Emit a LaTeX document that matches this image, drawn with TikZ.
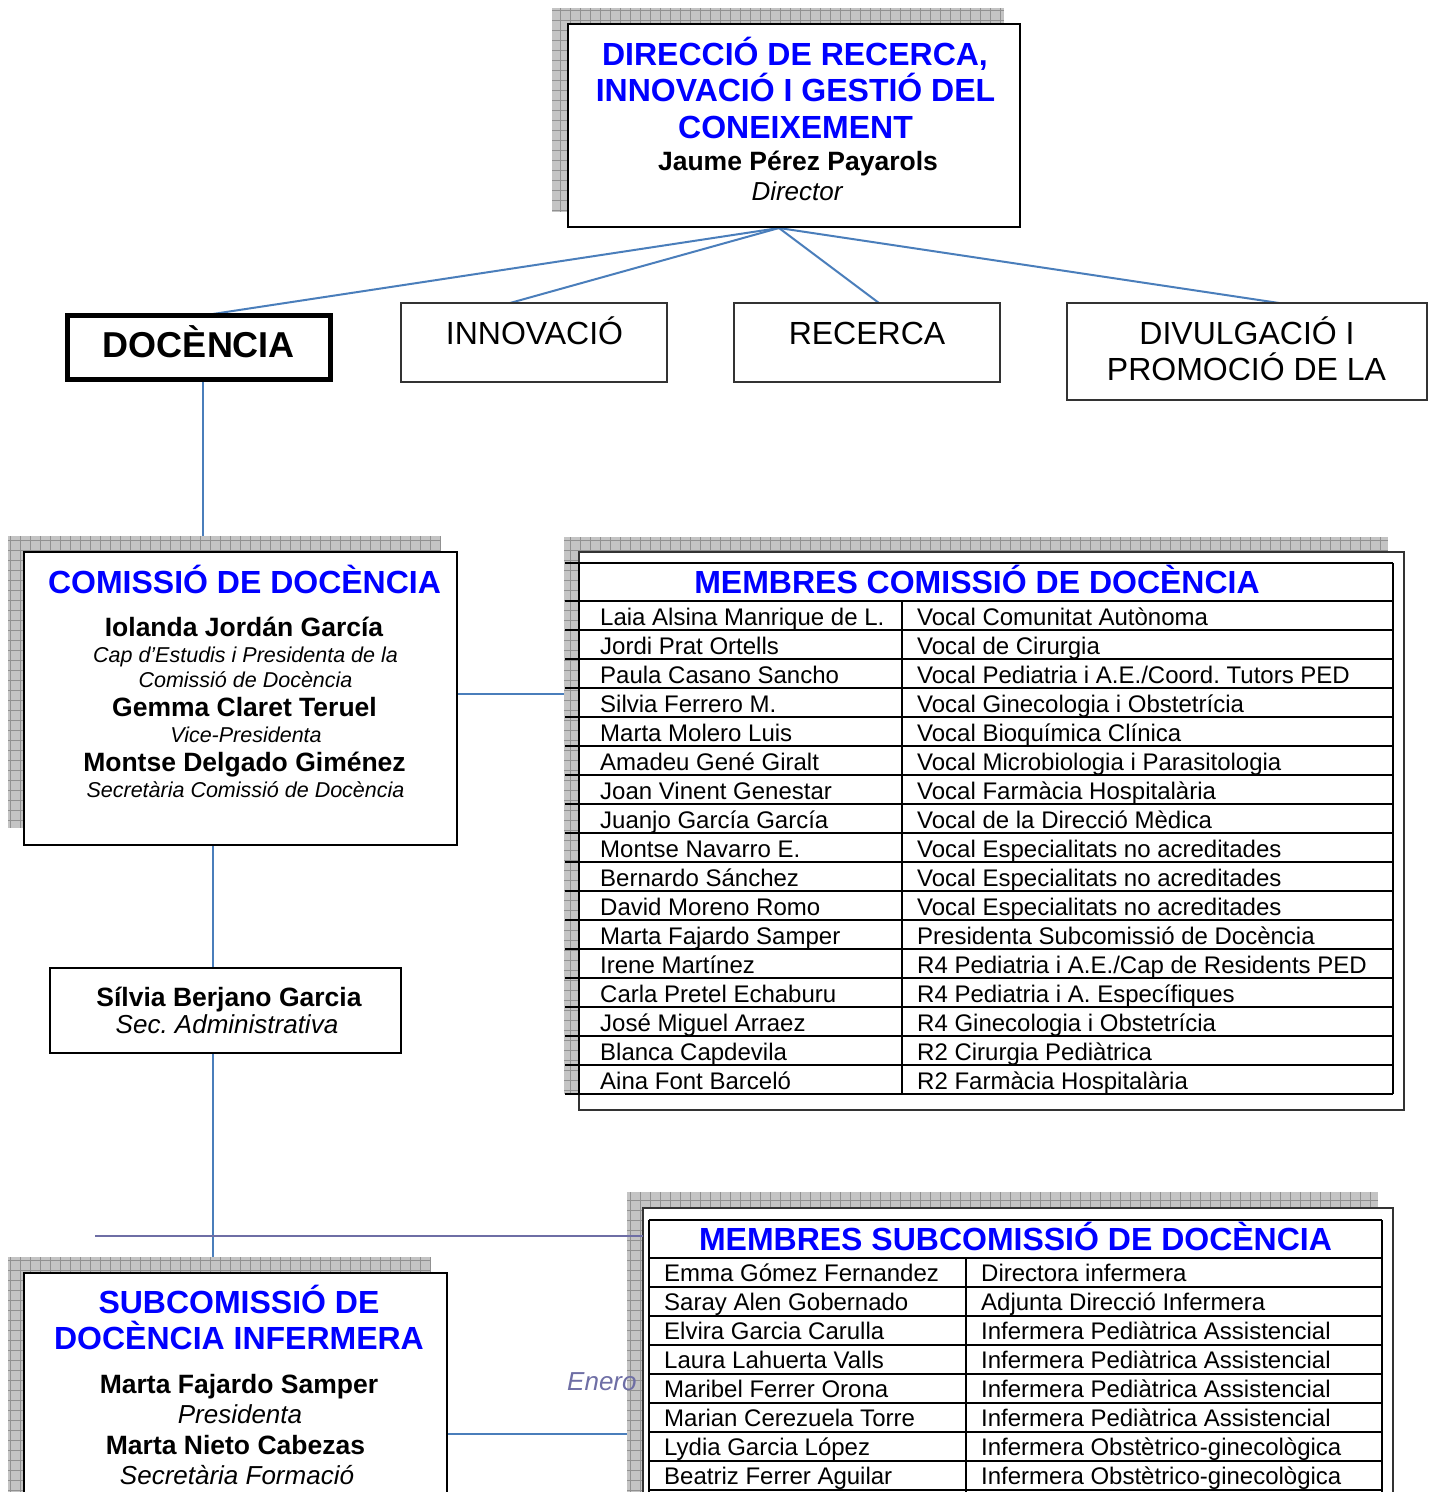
\documentclass[tikz,border=0pt]{standalone}
\usepackage{fontspec}
\setmainfont{Liberation Sans}
\usetikzlibrary{calc,fit}
\frenchspacing
\definecolor{linkblue}{RGB}{74,126,187}
\definecolor{slateblue}{RGB}{110,110,165}
\definecolor{titleblue}{RGB}{0,0,255}
\definecolor{shadefill}{RGB}{196,196,196}
\definecolor{shadegrid}{RGB}{145,145,145}
\pgfdeclarelayer{paper}
\pgfdeclarelayer{links}
\pgfdeclarelayer{shade}
\pgfsetlayers{paper,links,shade,main}
% hatched drop shadow behind a box: corners (#1,#2) and (#3,#4)
\newcommand\gridshadow[4]{%
  \begin{scope}
    \clip (#1,#2) rectangle (#3,#4);
    \fill[shadefill] (#1,#2) rectangle (#3,#4);
    \foreach \gx in {0,10,...,1440} \draw[shadegrid, line width=0.8] (\gx,#2) -- (\gx,#4);
    \foreach \gy in {0,10,...,1560} \draw[shadegrid, line width=0.8] (#1,\gy) -- (#3,\gy);
  \end{scope}}
\tikzset{
  link/.style={draw=linkblue, line width=2},
  boxframe/.style={rectangle, draw=black, line width=2, fill=white, inner sep=0, outer sep=0},
  thinframe/.style={rectangle, draw=black!80, line width=1.5, fill=white, inner sep=0, outer sep=0},
  tbl/.style={draw=black, line width=2},
  txt/.style={inner sep=0, anchor=base},
  hd/.style={txt, text=titleblue, font=\fontsize{32}{36}\selectfont\bfseries},
  pname/.style={txt, font=\fontsize{26.5}{30}\selectfont\bfseries},
  role/.style={txt, font=\fontsize{26}{30}\selectfont\itshape},
  srole/.style={txt, font=\fontsize{21.5}{25}\selectfont\itshape},
  unitlbl/.style={txt, font=\fontsize{32}{36}\selectfont},
  cell/.style={inner sep=0, anchor=base west, font=\fontsize{24}{28}\selectfont},
}
\begin{document}
\begin{tikzpicture}[x=1pt,y=-1pt]
\useasboundingbox (0,0) rectangle (1433,1492);
\begin{pgfonlayer}{paper}
  \fill[white] (0,0) rectangle (1433,1492);
\end{pgfonlayer}

% ---------- boxes ----------
\node[boxframe, fit={(568,24) (1020,227)}] (top) {};
\node[boxframe, line width=5, fit={(67.5,315.5) (330.5,379.5)}] (doc) {};
\node[thinframe, fit={(401,303) (667,382)}] (inn) {};
\node[thinframe, fit={(734,303) (1000,382)}] (rec) {};
\node[thinframe, fit={(1067,303) (1427,400)}] (div) {};
\node[boxframe, fit={(24,552) (457,845)}] (com) {};
\node[thinframe, draw=black, fit={(50,968) (401,1053)}] (sil) {};
\node[boxframe, fit={(24,1273) (447,1560)}] (sub) {};
\node[boxframe, draw=black!80, line width=2.5, fit={(579,552) (1404,1110)}] (mct) {};
\node[boxframe, draw=black!80, line width=2.5, fit={(643,1208) (1393,1560)}] (sct) {};

% ---------- drop shadows ----------
\begin{pgfonlayer}{shade}
  \gridshadow{552}{8}{1004}{212}
  \gridshadow{8}{536}{441}{828}
  \gridshadow{564}{537}{1388}{1094}
  \gridshadow{8}{1257}{431}{1560}
  \gridshadow{627}{1192}{1378}{1560}
\end{pgfonlayer}

% ---------- connectors ----------
\begin{pgfonlayer}{links}
  \coordinate (hub) at (779,228);
  \draw[link] (hub) -- ($(doc.north)+(4,0)$);
  \draw[link] (hub) -- ($(inn.north)+(-24,0)$);
  \draw[link] (hub) -- ($(rec.north)+(12,0)$);
  \draw[link] (hub) -- ($(div.north)+(32,0)$);
  \coordinate (d1) at ($(doc.south)+(4,0)$);
  \draw[link] (d1) -- (d1 |- com.north);
  \coordinate (c2) at ($(com.east)+(0,-4.5)$);
  \draw[link] (c2) -- (c2 -| mct.west);
  \coordinate (s1) at ($(sil.north)+(-12.5,0)$);
  \draw[link] (s1 |- com.south) -- (s1);
  \coordinate (s2) at ($(sil.south)+(-12.5,0)$);
  \draw[link] (s2) -- (s2 |- sub.north);
  \coordinate (y1) at (0,1434);
  \coordinate (c3) at (sub.east |- y1);
  \draw[link] (c3) -- (c3 -| sct.west);
\end{pgfonlayer}

% ---------- top box text ----------
\node[hd] (t1) at (795,65) {DIRECCIÓ DE RECERCA,};
\node[hd] (t2) at (795.5,101) {INNOVACIÓ I GESTIÓ DEL};
\node[hd] (t3) at (795.5,138) {CONEIXEMENT};
\node[pname] (t4) at (798,170) {Jaume Pérez Payarols};
\node[role] (t5) at (797,200) {Director};

% ---------- second level ----------
\node[txt, font=\fontsize{36}{40}\selectfont\bfseries] (doct) at (199,357) {DOCÈNCIA};
\node[unitlbl] (innt) at (534.5,344) {INNOVACIÓ};
\node[unitlbl] (rect) at (867,344) {RECERCA};
\node[unitlbl] (divt1) at (1247,344) {DIVULGACIÓ I};
\node[unitlbl] (divt2) at (1246.5,380) {PROMOCIÓ DE LA};

% ---------- comissió ----------
\node[hd] (ct1) at (244.5,593) {COMISSIÓ DE DOCÈNCIA};
\node[pname] (ct2) at (244,636) {Iolanda Jordán García};
\node[srole] (ct3) at (245.5,662) {Cap d’Estudis i Presidenta de la};
\node[srole] (ct4) at (245.5,687) {Comissió de Docència};
\node[pname] (ct5) at (244.5,716) {Gemma Claret Teruel};
\node[srole] (ct6) at (246,742) {Vice-Presidenta};
\node[pname] (ct7) at (244.5,771) {Montse Delgado Giménez};
\node[srole] (ct8) at (245.5,797) {Secretària Comissió de Docència};

% ---------- secretaria ----------
\node[pname] (st1) at (229,1006) {Sílvia Berjano Garcia};
\node[role] (st2) at (227,1033) {Sec. Administrativa};

% ---------- subcomissió ----------
\node[hd] (bt1) at (239,1313) {SUBCOMISSIÓ DE};
\node[hd] (bt2) at (239,1349) {DOCÈNCIA INFERMERA};
\node[pname] (bt3) at (239,1393) {Marta Fajardo Samper};
\node[role] (bt4) at (240,1423) {Presidenta};
\node[pname] (bt5) at (235.5,1454) {Marta Nieto Cabezas};
\node[role] (bt6) at (237,1484) {Secretària Formació};

% ---------- members table: comissió ----------
\draw[tbl] (565,563) -- (1393,563);
\foreach \k in {0,...,17} \draw[tbl] (565,{601+29*\k}) -- (1393,{601+29*\k});
\draw[tbl] (579,563) -- (579,1094);
\draw[tbl] (1393,563) -- (1393,1094);
\draw[tbl] (902,601) -- (902,1094);
\node[hd] (mh) at (977,593) {MEMBRES COMISSIÓ DE DOCÈNCIA};
\foreach \n/\r [count=\i] in {
  {Laia Alsina Manrique de L.}/{Vocal Comunitat Autònoma},
  {Jordi Prat Ortells}/{Vocal de Cirurgia},
  {Paula Casano Sancho}/{Vocal Pediatria i A.E./Coord. Tutors PED},
  {Silvia Ferrero M.}/{Vocal Ginecologia i Obstetrícia},
  {Marta Molero Luis}/{Vocal Bioquímica Clínica},
  {Amadeu Gené Giralt}/{Vocal Microbiologia i Parasitologia},
  {Joan Vinent Genestar}/{Vocal Farmàcia Hospitalària},
  {Juanjo García García}/{Vocal de la Direcció Mèdica},
  {Montse Navarro E.}/{Vocal Especialitats no acreditades},
  {Bernardo Sánchez}/{Vocal Especialitats no acreditades},
  {David Moreno Romo}/{Vocal Especialitats no acreditades},
  {Marta Fajardo Samper}/{Presidenta Subcomissió de Docència},
  {Irene Martínez}/{R4 Pediatria i A.E./Cap de Residents PED},
  {Carla Pretel Echaburu}/{R4 Pediatria i A. Específiques},
  {José Miguel Arraez}/{R4 Ginecologia i Obstetrícia},
  {Blanca Capdevila}/{R2 Cirurgia Pediàtrica},
  {Aina Font Barceló}/{R2 Farmàcia Hospitalària}} {
  \node[cell] (ma\i) at (600,{596+29*\i}) {\n};
  \node[cell] (mb\i) at (917,{596+29*\i}) {\r};
}

% ---------- members table: subcomissió ----------
\draw[tbl] (649,1220) -- (1382,1220);
\foreach \k in {0,...,8} \draw[tbl] (649,{1258+29*\k}) -- (1382,{1258+29*\k});
\draw[tbl] (649,1220) -- (649,1560);
\draw[tbl] (1382,1220) -- (1382,1560);
\draw[tbl] (966,1258) -- (966,1560);
\node[hd] (sh) at (1015.5,1250) {MEMBRES SUBCOMISSIÓ DE DOCÈNCIA};
\foreach \n/\r [count=\i] in {
  {Emma Gómez Fernandez}/{Directora infermera},
  {Saray Alen Gobernado}/{Adjunta Direcció Infermera},
  {Elvira Garcia Carulla}/{Infermera Pediàtrica Assistencial},
  {Laura Lahuerta Valls}/{Infermera Pediàtrica Assistencial},
  {Maribel Ferrer Orona}/{Infermera Pediàtrica Assistencial},
  {Marian Cerezuela Torre}/{Infermera Pediàtrica Assistencial},
  {Lydia Garcia López}/{Infermera Obstètrico-ginecològica},
  {Beatriz Ferrer Aguilar}/{Infermera Obstètrico-ginecològica}} {
  \node[cell] (sa\i) at (664,{1252+29*\i}) {\n};
  \node[cell] (sb\i) at (981,{1252+29*\i}) {\r};
}

% ---------- free line and note ----------
\coordinate (hl) at (95,1236);
\draw[draw=slateblue, line width=2] (hl) -- (hl -| sct.west);
\node[txt, anchor=base west, text=slateblue, font=\fontsize{26}{30}\selectfont\itshape] (enero) at (567,1390) {Enero};
\end{tikzpicture}
\end{document}
